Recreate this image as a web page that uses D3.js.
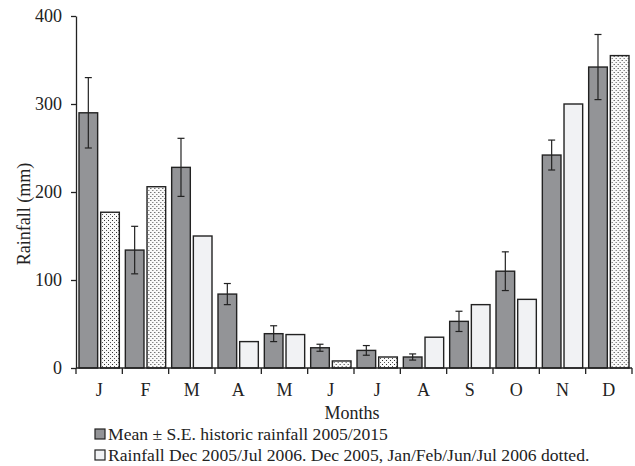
<!DOCTYPE html>
<html>
<head>
<meta charset="utf-8">
<script src="https://cdn.jsdelivr.net/npm/d3@7"></script>
<style>
  body { margin: 0; background: #fff; }
  text { font-family: "Liberation Serif", "Times New Roman", serif; fill: #222; }
</style>
</head>
<body>
<div id="chart"></div>
<script>
// data
var months = ["J", "F", "M", "A", "M", "J", "J", "A", "S", "O", "N", "D"];
var meanRain = [290, 134, 228, 84, 39, 23, 20, 12.5, 53, 110, 242, 342];
var seRain = [40, 27, 33, 12, 9, 4, 5.5, 3.5, 11.5, 22, 17, 37];
var rain0506 = [177, 206, 150, 30, 38, 8, 12.5, 35, 72, 78, 300, 355];
var dotted = [true, true, false, false, false, true, true, false, false, false, false, true];
var yTicks = [0, 100, 200, 300, 400];
var legendLabels = ["Mean \u00b1 S.E. historic rainfall 2005/2015",
  "Rainfall Dec 2005/Jul 2006. Dec 2005, Jan/Feb/Jun/Jul 2006 dotted."];

var W = 635, H = 466;
var margin = {top: 16, right: 3, bottom: 98, left: 76};
var width = W - margin.left - margin.right,
    height = H - margin.top - margin.bottom;

var svg = d3.select("#chart").append("svg")
  .attr("width", W).attr("height", H);

var defs = svg.append("defs");
var pat = defs.append("pattern")
  .attr("id", "dots")
  .attr("patternUnits", "userSpaceOnUse")
  .attr("width", 4).attr("height", 4);
pat.append("rect").attr("width", 4).attr("height", 4).attr("fill", "#fafafa");
pat.append("rect").attr("x", 0).attr("y", 0).attr("width", 1).attr("height", 1).attr("fill", "#333");
pat.append("rect").attr("x", 2).attr("y", 2).attr("width", 1).attr("height", 1).attr("fill", "#555");

var g = svg.append("g")
  .attr("transform", "translate(" + margin.left + "," + margin.top + ")");

var idx = d3.range(months.length);
var x0 = d3.scaleBand().domain(idx).range([0, width]).paddingInner(0).paddingOuter(0);
var x1 = d3.scaleBand().domain([0, 1]).range([3, x0.bandwidth() - 3]).paddingInner(0.14);
var y = d3.scaleLinear().domain([0, 400]).range([height, 0]);

// y axis
var yAxis = g.append("g")
  .call(d3.axisLeft(y).tickValues(yTicks).tickSize(5).tickSizeOuter(0).tickPadding(9));
yAxis.selectAll("text").style("font-size", "18px");
yAxis.selectAll("path, line").attr("stroke", "#222").attr("stroke-width", 1.3);

// bars
var groups = g.selectAll(".month")
  .data(idx)
  .enter().append("g")
    .attr("class", "month")
    .attr("transform", function(i) { return "translate(" + x0(i) + ",0)"; });

groups.append("rect")
  .attr("x", x1(0))
  .attr("width", x1.bandwidth())
  .attr("y", function(i) { return y(meanRain[i]); })
  .attr("height", function(i) { return height - y(meanRain[i]); })
  .attr("fill", "#939497")
  .attr("stroke", "#222").attr("stroke-width", 1.4);

groups.append("rect")
  .attr("x", x1(1))
  .attr("width", x1.bandwidth())
  .attr("y", function(i) { return y(rain0506[i]); })
  .attr("height", function(i) { return height - y(rain0506[i]); })
  .attr("fill", function(i) { return dotted[i] ? "url(#dots)" : "#f1f2f4"; })
  .attr("stroke", "#222").attr("stroke-width", 1.4);

// error bars
var cx = x1(0) + x1.bandwidth() / 2;
groups.append("line")
  .attr("x1", cx).attr("x2", cx)
  .attr("y1", function(i) { return y(meanRain[i] + seRain[i]); })
  .attr("y2", function(i) { return y(meanRain[i] - seRain[i]); })
  .attr("stroke", "#222").attr("stroke-width", 1.2);
[1, -1].forEach(function(s) {
  groups.append("line")
    .attr("x1", cx - 3.5).attr("x2", cx + 3.5)
    .attr("y1", function(i) { return y(meanRain[i] + s * seRain[i]); })
    .attr("y2", function(i) { return y(meanRain[i] + s * seRain[i]); })
    .attr("stroke", "#222").attr("stroke-width", 1.2);
});

// x axis: ticks at band edges
var xAxisG = g.append("g").attr("transform", "translate(0," + height + ")");
xAxisG.append("line")
  .attr("x1", 0).attr("x2", width)
  .attr("stroke", "#222").attr("stroke-width", 1.6);
xAxisG.selectAll(".tick")
  .data(d3.range(months.length + 1))
  .enter().append("line")
    .attr("x1", function(i) { return i < months.length ? x0(i) : width; })
    .attr("x2", function(i) { return i < months.length ? x0(i) : width; })
    .attr("y1", 0).attr("y2", 6)
    .attr("stroke", "#222").attr("stroke-width", 1.3);
xAxisG.selectAll(".mlabel")
  .data(idx)
  .enter().append("text")
    .attr("x", function(i) { return x0(i) + x0.bandwidth() / 2; })
    .attr("y", 28)
    .attr("text-anchor", "middle")
    .style("font-size", "18px")
    .text(function(i) { return months[i]; });

// axis titles
g.append("text")
  .attr("x", width / 2 - 2)
  .attr("y", height + 51)
  .attr("text-anchor", "middle")
  .style("font-size", "18px")
  .text("Months");

g.append("text")
  .attr("transform", "rotate(-90)")
  .attr("x", -198)
  .attr("y", -46)
  .attr("text-anchor", "middle")
  .style("font-size", "18px")
  .text("Rainfall (mm)");

// legend
var legend = svg.append("g").attr("transform", "translate(95,429)");
var legendFills = ["#939497", "#f1f2f4"];
legendLabels.forEach(function(lab, k) {
  var row = legend.append("g").attr("transform", "translate(0," + (k * 21) + ")");
  row.append("rect")
    .attr("x", 0).attr("y", 0).attr("width", 10).attr("height", 10)
    .attr("fill", legendFills[k]).attr("stroke", "#222").attr("stroke-width", 1.2);
  row.append("text")
    .attr("x", 13).attr("y", 11)
    .style("font-size", "17.6px")
    .text(lab);
});
</script>
</body>
</html>
